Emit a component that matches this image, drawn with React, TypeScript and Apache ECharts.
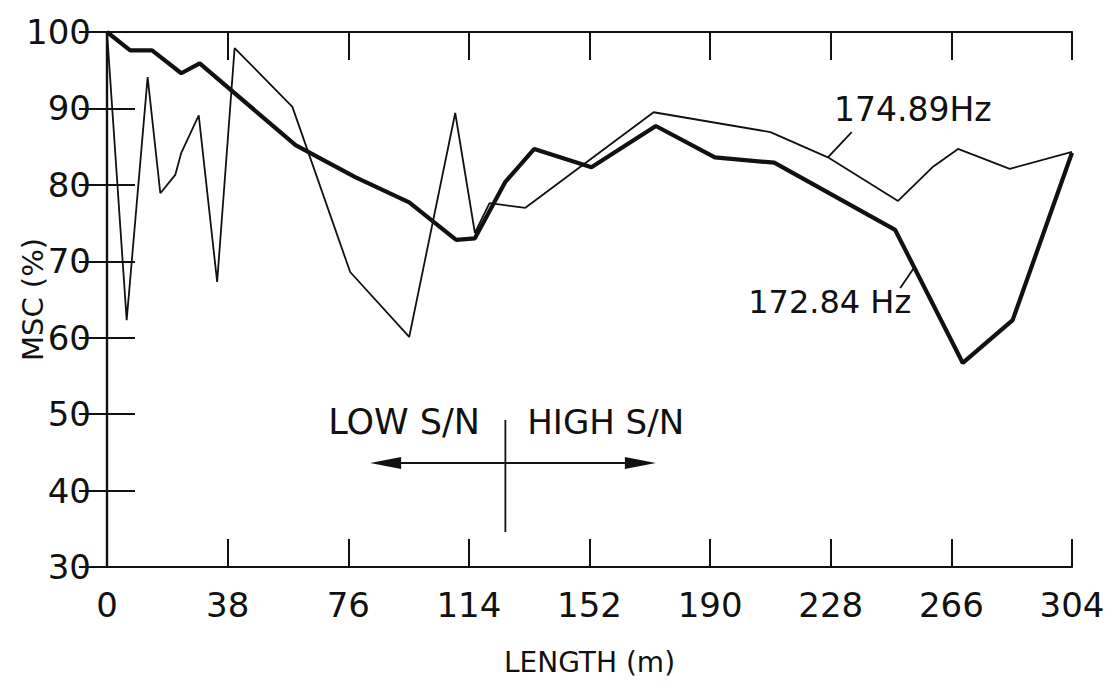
import React, { useEffect, useRef } from "react";
import * as echarts from "echarts";

// Length along the line (m) and MSC (%) for each frequency
const len17284 = [0, 7.3, 14.2, 23.4, 29.2, 59.4, 78.2, 95.2, 110, 115.9, 125.5, 134.6, 152.6, 172.9, 191.5, 210.2, 248.3, 269.6, 285.3, 304];
const msc17284 = [100, 97.6, 97.6, 94.6, 95.9, 85.2, 81.0, 77.7, 72.8, 73.0, 80.4, 84.7, 82.3, 87.7, 83.6, 82.9, 74.1, 56.7, 62.3, 84.2];

const len17489 = [0, 6.2, 12.8, 16.8, 21.5, 23.4, 28.9, 34.7, 40.2, 58.4, 76.6, 95.2, 109.7, 115.9, 120.5, 131.8, 172.2, 209, 227.1, 249.2, 260, 268.1, 284.4, 304];
const msc17489 = [100, 62.3, 94.1, 78.9, 81.3, 84.2, 89.1, 67.3, 97.9, 90.2, 68.6, 60.1, 89.4, 73.7, 77.6, 77.0, 89.5, 86.9, 83.6, 77.9, 82.3, 84.7, 82.1, 84.3];

const xTicks = [0, 38, 76, 114, 152, 190, 228, 266, 304];
const yTicks = [30, 40, 50, 60, 70, 80, 90, 100];

// Boundary between the low and high S/N stretches, and the arrow extent (m)
const snSplit = 125.5;
const snArrowFrom = 82.9;
const snArrowTo = 172.9;

const FONT = "'DejaVu Sans', 'Noto Sans', sans-serif";
const INK = "#111";

const pairs = (xs: number[], ys: number[]) => xs.map((x, i) => [x, ys[i]]);

export default function App() {
  const ref = useRef<HTMLDivElement>(null);

  useEffect(() => {
    if (!ref.current) return;
    const chart = echarts.init(ref.current, null, { renderer: "svg" });

    const tickStyle = { show: true, inside: true, length: 28, lineStyle: { color: INK, width: 2 } };
    const lineStyle = { color: INK, width: 2.2 };
    const labelFont = { fontFamily: FONT, fontSize: 34, color: INK };

    chart.setOption({
      animation: false,
      backgroundColor: "#fff",
      textStyle: { fontFamily: FONT, color: INK },
      grid: { left: 107, right: 35, top: 32, bottom: 121, containLabel: false, outerBoundsMode: "none" },
      xAxis: [
        {
          type: "value",
          min: xTicks[0],
          max: xTicks[xTicks.length - 1],
          interval: 38,
          position: "bottom",
          name: "LENGTH (m)",
          nameLocation: "middle",
          nameGap: 81,
          nameMoveOverlap: false,
          nameTextStyle: { fontFamily: FONT, fontSize: 28, color: INK },
          axisLine: { show: true, lineStyle },
          axisTick: tickStyle,
          splitLine: { show: false },
          axisLabel: { margin: 21, ...labelFont },
        },
        {
          type: "value",
          min: xTicks[0],
          max: xTicks[xTicks.length - 1],
          interval: 38,
          position: "top",
          axisLine: { show: true, lineStyle },
          axisTick: tickStyle,
          splitLine: { show: false },
          axisLabel: { show: false },
        },
      ],
      yAxis: [
        {
          type: "value",
          min: yTicks[0],
          max: yTicks[yTicks.length - 1],
          interval: 10,
          position: "left",
          name: "MSC (%)",
          nameLocation: "middle",
          nameRotate: 90,
          nameGap: 60,
          nameMoveOverlap: false,
          nameTextStyle: { fontFamily: FONT, fontSize: 29, color: INK },
          axisLine: { show: true, lineStyle },
          axisTick: tickStyle,
          splitLine: { show: false },
          axisLabel: { margin: 16, ...labelFont },
        },
        {
          type: "value",
          min: yTicks[0],
          max: yTicks[yTicks.length - 1],
          interval: 10,
          position: "right",
          axisLine: { show: true, lineStyle },
          axisTick: tickStyle,
          splitLine: { show: false },
          axisLabel: { show: false },
        },
      ],
      series: [
        {
          name: "174.89Hz",
          type: "line",
          xAxisIndex: 0,
          yAxisIndex: 0,
          data: pairs(len17489, msc17489),
          showSymbol: false,
          lineStyle: { color: INK, width: 1.8 },
          z: 2,
        },
        {
          name: "172.84 Hz",
          type: "line",
          xAxisIndex: 0,
          yAxisIndex: 0,
          data: pairs(len17284, msc17284),
          showSymbol: false,
          lineStyle: { color: INK, width: 4.2 },
          z: 3,
        },
      ],
    });

    // Annotations are anchored to axis values so they sit on the curves
    const px = (x: number, y: number) => chart.convertToPixel({ xAxisIndex: 0, yAxisIndex: 0 }, [x, y]) as number[];
    const a1 = px(227.1, 83.6);
    const a2 = px(234.6, 86.9);
    const t1 = px(229.0, 92.0);
    const b1 = px(249.9, 66.5);
    const b2 = px(254.3, 69.2);
    const t2 = px(202.0, 66.8);
    const low = px(69.7, 0);
    const high = px(132.4, 0);
    const split = px(snSplit, 0);
    const from = px(snArrowFrom, 0);
    const to = px(snArrowTo, 0);
    const ay = 463;

    chart.setOption({
      graphic: [
        { type: "text", left: t1[0], top: t1[1], style: { text: "174.89Hz", font: `33px ${FONT}`, fill: INK } },
        { type: "line", shape: { x1: a1[0], y1: a1[1], x2: a2[0], y2: a2[1] }, style: { stroke: INK, lineWidth: 1.8 } },
        { type: "text", left: t2[0], top: t2[1], style: { text: "172.84 Hz", font: `32px ${FONT}`, fill: INK } },
        { type: "line", shape: { x1: b1[0], y1: b1[1], x2: b2[0], y2: b2[1] }, style: { stroke: INK, lineWidth: 1.8 } },
        { type: "text", left: low[0], top: 404, style: { text: "LOW S/N", font: `35px ${FONT}`, fill: INK } },
        { type: "text", left: high[0], top: 405, style: { text: "HIGH S/N", font: `34px ${FONT}`, fill: INK } },
        { type: "line", shape: { x1: split[0], y1: 420, x2: split[0], y2: 532 }, style: { stroke: INK, lineWidth: 1.8 } },
        { type: "line", shape: { x1: from[0] + 15, y1: ay, x2: to[0] - 15, y2: ay }, style: { stroke: INK, lineWidth: 2.2 } },
        { type: "polygon", shape: { points: [[from[0], ay], [from[0] + 31, ay - 6], [from[0] + 31, ay + 6]] }, style: { fill: INK } },
        { type: "polygon", shape: { points: [[to[0], ay], [to[0] - 31, ay - 6], [to[0] - 31, ay + 6]] }, style: { fill: INK } },
      ],
    });

    return () => chart.dispose();
  }, []);

  return (
    <div
      ref={ref}
      style={{ position: "fixed", left: 0, top: 0, width: 1107, height: 688, background: "#fff" }}
    />
  );
}
